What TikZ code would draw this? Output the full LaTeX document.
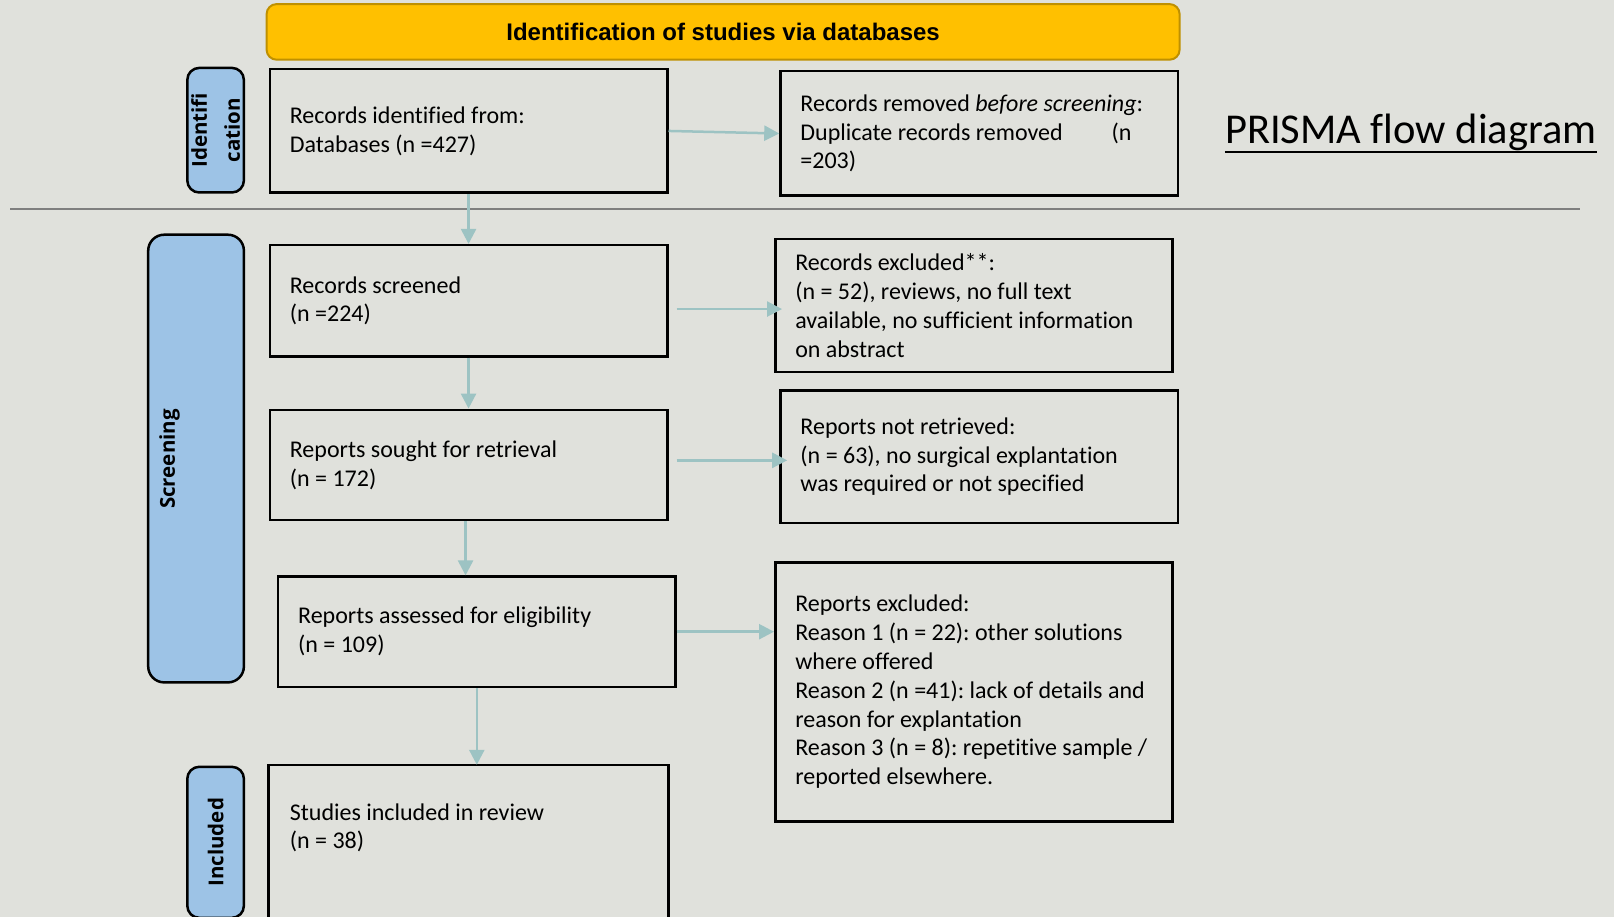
\documentclass[tikz,border=0pt]{standalone}
\usepackage{fontspec}
\setmainfont{Carlito}[Ligatures=CommonOff]
\newfontfamily\bannerfont{Liberation Sans}
\newfontfamily\lblfont{Open Sans}[Ligatures=CommonOff]
\usetikzlibrary{arrows.meta,calc}
\definecolor{bgcol}{HTML}{E0E1DC}
\definecolor{gold}{HTML}{FFC000}
\definecolor{golddark}{HTML}{BF9000}
\definecolor{lblue}{HTML}{9DC3E6}
\definecolor{arrcol}{HTML}{9DC3C3}
\definecolor{sepgrey}{HTML}{7F7F7F}
\frenchspacing
\begin{document}
\begin{tikzpicture}[x=1pt,y=-1pt,
  box/.style={draw=black, line width=2.5pt, align=flush left, anchor=north west,
    inner xsep=20pt, inner ysep=0pt, font=\fontsize{24}{28.8}\selectfont\frenchspacing},
  stagebox/.style={draw=black, line width=2.5pt, fill=lblue, rounded corners=12pt, inner sep=0pt},
  stagetext/.style={font=\lblfont\bfseries\fontsize{20.5}{33}\selectfont, rotate=90, align=center, inner sep=0pt},
  arr/.style={draw=arrcol, line width=2.5pt, -{Triangle[length=15pt,width=15pt]}},
  frame/.style={draw=black, line width=2.5pt}
]
\useasboundingbox (0,0) rectangle (1614,917);
\fill[bgcol] (0,0) rectangle (1614,917);
\clip (0,0) rectangle (1614,917);

% banner
\node[draw=golddark, line width=2pt, fill=gold, rounded corners=10pt,
  minimum width=913pt, minimum height=55.6pt, inner sep=0pt,
  font=\bannerfont\bfseries\fontsize{24}{28}\selectfont] (banner) at (723.1,31.9)
  {Identification of studies via databases};

% separator
\coordinate (sepL) at (10.3,209);
\coordinate (sepR) at (1580,209);
\draw[sepgrey, line width=1.5pt] (sepL) -- (sepR);

% title
\node[anchor=base west, inner sep=0pt, font=\fontsize{42.5}{50}\selectfont] (title) at (1224.9,143.3) {PRISMA flow diagram};
\draw[black, line width=2.2pt] ([yshift=-9pt]title.base west) -- ([yshift=-9pt]title.base east);

% stage labels
\node[stagebox, minimum width=56.6pt, minimum height=124.6pt] (idlbl) at (215.6,130.2) {};
\node[stagetext] (idtxt) at (idlbl.center) {Identifi\\cation};
\node[stagebox, rounded corners=16pt, minimum width=95.7pt, minimum height=447.7pt] (scrlbl) at (196.05,458.55) {};
\node[stagetext] (scrtxt) at (169.6,459) {Screening};
\node[stagebox, minimum width=56.6pt, minimum height=151pt] (inclbl) at (215.6,842.3) {};
\node[stagetext] (inctxt) at (inclbl.center) {Included};

% boxes
\node[box, text width=357.4pt, minimum width=397.4pt, minimum height=123.6pt] (b1) at (268.6,67.9)
  {Records identified from:\\Databases (n =427)};
\node[box, text width=357.3pt, minimum width=397.3pt, minimum height=124.5pt] (b2) at (779.2,70)
  {Records removed \textit{before screening}:\\\makebox[331pt][l]{Duplicate records removed\hfill(n}\\=203)};
\node[box, text width=357.4pt, minimum width=397.4pt, minimum height=111.2pt] (b3) at (268.6,243.9)
  {Records screened\\(n =224)};
\node[box, text width=357.3pt, minimum width=397.3pt, minimum height=132.7pt] (b4) at (774,237.8)
  {Records excluded**:\\(n = 52), reviews, no full text\\available, no sufficient information\\on abstract};
\node[box, text width=357.4pt, minimum width=397.4pt, minimum height=110.2pt] (b5) at (268.6,408.6)
  {Reports sought for retrieval\\(n = 172)};
\node[box, text width=357.3pt, minimum width=397.3pt, minimum height=132.8pt] (b6) at (779.2,389.1)
  {Reports not retrieved:\\(n = 63), no surgical explantation\\was required or not specified};
\node[box, text width=357.3pt, minimum width=397.3pt, minimum height=110.1pt] (b7) at (276.9,575.4)
  {Reports assessed for eligibility\\(n = 109)};
\node[box, text width=357.3pt, minimum width=397.3pt, minimum height=259.4pt] (b8) at (774,561)
  {Reports excluded:\\Reason 1 (n = 22): other solutions\\where offered\\Reason 2 (n =41): lack of details and\\reason for explantation\\Reason 3 (n = 8): repetitive sample /\\reported elsewhere.};
\node[box, draw=none, text width=357.4pt, minimum width=397.4pt, minimum height=123.4pt] (b9) at (268.6,764.8)
  {Studies included in review\\(n = 38)};
\draw[frame] ([yshift=-80pt]b9.south west) -- (b9.north west) -- (b9.north east) -- ([yshift=-80pt]b9.south east);

% arrows
\draw[arr] (b1.east) -- (b2.west);
\draw[arr] (b1.south) -- (b3.north);
\draw[arr] ([xshift=8pt,yshift=-8.3pt]b3.east) -- ([xshift=8pt,yshift=-8.3pt]b3.east -| b4.west);
\draw[arr] (b3.south) -- (b5.north);
\draw[arr] ([xshift=8pt,yshift=4.6pt]b5.east) -- ([xshift=8pt,yshift=4.6pt]b5.east -| b6.west);
\draw[arr] ([xshift=-3pt]b5.south) -- ([xshift=-3pt]b5.south |- b7.north);
\draw[arr] (b7.east) -- (b7.east -| b8.west);
\draw[arr] (b7.south) -- (b7.south |- b9.north);
\end{tikzpicture}
\end{document}
